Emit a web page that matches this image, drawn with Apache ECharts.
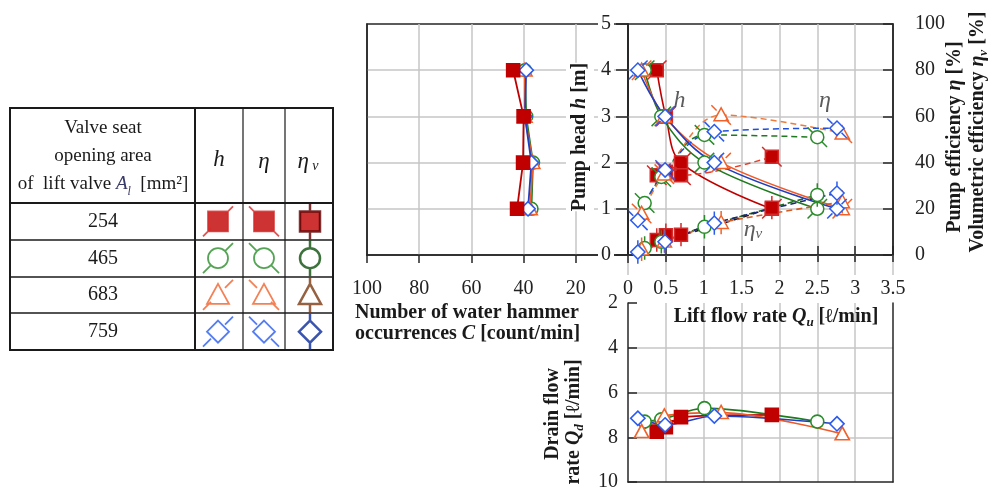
<!DOCTYPE html>
<html>
<head>
<meta charset="utf-8">
<title>Lift valve performance</title>
<script src="https://cdn.jsdelivr.net/npm/echarts@6/dist/echarts.min.js"></script>
<style>
html, body { margin: 0; padding: 0; background: #fff; }
#chart { width: 992px; height: 496px; }
</style>
</head>
<body>
<div id="chart"></div>
<script>
// valve seat opening area A_l [mm2], one row per valve
var valveAreas = ['254', '465', '683', '759'];
var tableColumns = ['h', 'η', 'ηv'];
// set pump head h [m] for the four operating points
var pumpHead = [4, 3, 2, 1];
// lift flow rate Qu [l/min] at each head
var liftFlow = [
    [0.38, 0.5, 0.7, 1.9],
    [0.22, 0.44, 1.01, 2.5],
    [0.18, 0.48, 1.23, 2.83],
    [0.13, 0.49, 1.14, 2.76]
];
// pump efficiency eta [%]
var pumpEff = [
    [34.5, 36, 34.5, 42.5],
    [22.5, 33.8, 52, 51],
    [18, 35, 60.6, 52.7],
    [15, 36.8, 53.4, 54.9]
];
// volumetric efficiency eta_v [%]
var volEff = [
    [6.5, 8.6, 8.8, 20.5],
    [3, 5.7, 12.2, 26],
    [2.5, 6, 14, 23],
    [1.3, 5.7, 13.8, 26.8]
];
// water hammer occurrences C [count/min]
var hammerCount = [
    [44, 40, 40.2, 42.5],
    [39.5, 39, 36.4, 37],
    [39.5, 39.5, 36.5, 37.5],
    [39, 39.5, 37, 38.3]
];
// drain flow rate Qd [l/min]
var drainFlow = [
    [7.75, 7.55, 7.1, 7.0],
    [7.3, 7.2, 6.7, 7.3],
    [7.75, 7.05, 6.9, 7.85],
    [7.15, 7.45, 7.05, 7.4]
];
// curve labels in the main panel
var curveNames = ['h', 'η', 'ηv'];
var curveNameQu = [0.68, 2.6, 1.65];
var curveNameHead = [3.35, 3.35, 0.55];

var serif = '"Liberation Serif", "Times New Roman", serif';
var gridGray = '#c6c6c6';
var axisBlack = '#262626';

var markColors = ['#c00000', '#2a8c2a', '#f0622a', '#2a5cf0'];
var whiskerColors = ['#d42a2a', '#2a8c2a', '#f0622a', '#2a5cf0'];
var darkColors = ['#5a0000', '#0c4f0c', '#7a3a10', '#0a2a9a'];
var headLineColors = ['#c00000', '#1f7a1f', '#f05a28', '#1f3fbf'];
var effLineColors = ['#e8402a', '#1f7a1f', '#f07a3a', '#1f4fd8'];
var volLineColors = ['#3a0a0a', '#1f6a1f', '#d85a20', '#18287a'];

// marker shapes drawn in a 40x40 box, whiskers show which quantity it is
var shapes = [
    'M10 10L30 10L30 30L10 30Z',
    'M30 20A10 10 0 1 1 10 20A10 10 0 1 1 30 20Z',
    'M20 9L31 29L9 29Z',
    'M20 9L31 20L20 31L9 20Z'
];
var whiskerH = 'M5 35L13 27M27 13L35 5';
var whiskerEta = 'M5 5L13 13M27 27L35 35';
var whiskerVol = 'M20 2L20 10M20 30L20 38';
var whiskers = [whiskerH, whiskerEta, whiskerVol];

function shapePath(i, whisker) {
    return 'path://M0 0M40 40' + shapes[i] + (whisker || '');
}
function pairs(xs, ys) {
    return xs.map(function (x, k) { return [x, ys[k]]; });
}

var chart = echarts.init(document.getElementById('chart'));

var series = [];
for (var i = 0; i < valveAreas.length; i++) {
    var fill = i === 0 ? markColors[0] : '#fff';
    series.push({
        name: valveAreas[i] + ' h', type: 'line', xAxisIndex: 0, yAxisIndex: 0,
        data: pairs(liftFlow[i], pumpHead), smooth: 0.35,
        symbol: shapePath(i, whiskerH), symbolSize: 26,
        lineStyle: { color: headLineColors[i], width: 1.6 },
        itemStyle: { color: fill, borderColor: whiskerColors[i], borderWidth: 1.5 },
        z: 3
    });
    series.push({
        name: valveAreas[i] + ' eta', type: 'line', xAxisIndex: 0, yAxisIndex: 1,
        data: pairs(liftFlow[i], pumpEff[i]), smooth: 0.35,
        symbol: shapePath(i, whiskerEta), symbolSize: 26,
        lineStyle: { color: effLineColors[i], width: 1.5, type: [6, 4] },
        itemStyle: { color: fill, borderColor: whiskerColors[i], borderWidth: 1.5 },
        z: 3
    });
    series.push({
        name: valveAreas[i] + ' eta_v', type: 'line', xAxisIndex: 0, yAxisIndex: 1,
        data: pairs(liftFlow[i], volEff[i]), smooth: 0.2,
        symbol: shapePath(i, whiskerVol), symbolSize: 26,
        lineStyle: { color: volLineColors[i], width: 1.6, type: [6, 4] },
        itemStyle: { color: fill, borderColor: whiskerColors[i], borderWidth: 1.5 },
        z: 3
    });
    series.push({
        name: valveAreas[i] + ' C', type: 'line', xAxisIndex: 3, yAxisIndex: 2,
        data: pairs(hammerCount[i], pumpHead),
        symbol: shapePath(i), symbolSize: 26,
        lineStyle: { color: headLineColors[i], width: 1.8 },
        itemStyle: { color: fill, borderColor: markColors[i], borderWidth: 1.6 },
        z: i === 0 ? 5 : 3
    });
    series.push({
        name: valveAreas[i] + ' Qd', type: 'line', xAxisIndex: 4, yAxisIndex: 3,
        data: pairs(liftFlow[i], drainFlow[i]), smooth: 0.3,
        symbol: shapePath(i), symbolSize: 26,
        lineStyle: { color: headLineColors[i], width: 1.6 },
        itemStyle: { color: fill, borderColor: markColors[i], borderWidth: 1.6 },
        z: 3
    });
}

// legend table markers
var tableData = [];
for (var r = 0; r < valveAreas.length; r++) {
    for (var c = 0; c < tableColumns.length; c++) {
        tableData.push({
            value: [c, r],
            symbol: shapePath(r, whiskers[c]),
            itemStyle: {
                color: r === 0 ? markColors[0] : '#fff',
                borderColor: c === 2 ? darkColors[r] : whiskerColors[r],
                borderWidth: c === 2 ? 2.5 : 1.8
            }
        });
    }
}
series.push({
    type: 'scatter', xAxisIndex: 5, yAxisIndex: 5, silent: true,
    symbolSize: 40, data: tableData
});

series.push({
    type: 'scatter', xAxisIndex: 0, yAxisIndex: 0, silent: true,
    symbolSize: 1, itemStyle: { color: 'rgba(0,0,0,0)' },
    data: curveNames.map(function (n, k) {
        return { name: n, value: [curveNameQu[k], curveNameHead[k]] };
    }),
    label: {
        show: true, position: 'inside',
        formatter: function (p) {
            return p.name === 'ηv' ? '{i|η}{s|v}' : '{i|' + p.name + '}';
        },
        rich: {
            i: { fontFamily: serif, fontStyle: 'italic', fontSize: 24, color: '#333' },
            s: { fontFamily: serif, fontStyle: 'italic', fontSize: 15, color: '#333', verticalAlign: 'bottom' }
        }
    },
    z: 6
});

var rb = { fontFamily: serif, fontSize: 20, fontWeight: 'bold', fill: '#1a1a1a', lineHeight: 24 };
var rbi = { fontFamily: serif, fontSize: 20, fontWeight: 'bold', fontStyle: 'italic', fill: '#1a1a1a', lineHeight: 24 };
var rsub = { fontFamily: serif, fontSize: 13, fontWeight: 'bold', fontStyle: 'italic', fill: '#1a1a1a', verticalAlign: 'bottom', lineHeight: 16 };
var nameRich = { b: rb, bi: rbi, sub: rsub };

function nameText(x, y, text, rotated, align, extra) {
    var style = { text: text, rich: nameRich, align: align || 'center', verticalAlign: 'middle' };
    if (extra) { for (var k in extra) style[k] = extra[k]; }
    return { type: 'text', x: x, y: y, rotation: rotated ? Math.PI / 2 : 0, z: 10, style: style };
}

var tr = { fontFamily: serif, fontSize: 19, fill: '#1a1a1a', lineHeight: 28 };
var tri = { fontFamily: serif, fontSize: 19, fontStyle: 'italic', fill: '#3a3a6a', lineHeight: 28 };
var trs = { fontFamily: serif, fontSize: 12, fontStyle: 'italic', fill: '#3a3a6a', verticalAlign: 'bottom', lineHeight: 18 };
var thi = { fontFamily: serif, fontSize: 23, fontStyle: 'italic', fill: '#1a1a1a' };
var ths = { fontFamily: serif, fontSize: 14, fontStyle: 'italic', fill: '#1a1a1a', verticalAlign: 'bottom' };

var graphics = [
    { type: 'rect', shape: { x: 10, y: 108, width: 323, height: 242 }, style: { fill: 'none', stroke: '#1a1a1a', lineWidth: 2 } }
];
[195, 243, 285].forEach(function (x, k) {
    graphics.push({ type: 'line', shape: { x1: x, y1: 108, x2: x, y2: 350 }, style: { stroke: '#1a1a1a', lineWidth: k === 0 ? 2 : 1.2 } });
});
[203, 240, 277, 313].forEach(function (y, k) {
    graphics.push({ type: 'line', shape: { x1: 10, y1: y, x2: 333, y2: y }, style: { stroke: '#1a1a1a', lineWidth: k === 0 ? 2.2 : 1.5 } });
});
graphics.push({
    type: 'text', x: 103, y: 156,
    style: {
        text: '{t|Valve seat}\n{t|opening area}\n{t|of  lift valve }{a|A}{s|l}{t|  [mm²]}',
        rich: { t: tr, a: tri, s: trs }, align: 'center', verticalAlign: 'middle'
    }
});
valveAreas.forEach(function (v, k) {
    graphics.push({
        type: 'text', x: 103, y: [221.5, 258.5, 295, 331.5][k],
        style: { text: v, fontFamily: serif, fontSize: 20, fill: '#1a1a1a', align: 'center', verticalAlign: 'middle' }
    });
});
graphics.push({ type: 'text', x: 219, y: 160, style: { text: '{i|h}', rich: { i: thi }, align: 'center', verticalAlign: 'middle' } });
graphics.push({ type: 'text', x: 264, y: 162, style: { text: '{i|η}', rich: { i: thi }, align: 'center', verticalAlign: 'middle' } });
graphics.push({ type: 'text', x: 308, y: 162, style: { text: '{i|η}{s| v}', rich: { i: thi, s: ths }, align: 'center', verticalAlign: 'middle' } });

graphics.push(nameText(580, 137, '{b|Pump head }{bi|h}{b| [m]}', true, 'center', { backgroundColor: '#fff', padding: [2, 0] }));
graphics.push(nameText(776, 317, '{b|Lift flow rate }{bi|Q}{sub|u}{b| [ℓ/min]}', false));
graphics.push(nameText(355, 313, '{b|Number of water hammer}', false, 'left'));
graphics.push(nameText(355, 334, '{b|occurrences }{bi|C}{b| [count/min]}', false, 'left'));
graphics.push(nameText(955, 137, '{b|Pump efficiency }{bi|η}{b| [%]}', true));
graphics.push(nameText(978, 132, '{b|Volumetric efficiency }{bi|η}{sub|v}{b| [%]}', true));
graphics.push(nameText(553, 414, '{b|Drain flow}', true));
graphics.push(nameText(574, 422, '{b|rate }{bi|Q}{sub|d}{b| [ℓ/min]}', true));

function labelStyle(margin, extra) {
    var s = { margin: margin, fontFamily: serif, fontSize: 20, color: '#222' };
    if (extra) { for (var k in extra) s[k] = extra[k]; }
    return s;
}
var blackLine = { color: axisBlack, width: 1.5 };
var graySplit = { show: true, showMinLine: false, showMaxLine: false, lineStyle: { color: gridGray, width: 1.5 } };

var option = {
    animation: false,
    backgroundColor: '#fff',
    textStyle: { fontFamily: serif },
    grid: [
        { left: 628, top: 24, width: 265, height: 231, show: true, borderColor: axisBlack, borderWidth: 1.5, outerBoundsMode: 'none' },
        { left: 367, top: 24, width: 261, height: 231, show: true, borderColor: axisBlack, borderWidth: 1.5, outerBoundsMode: 'none' },
        { left: 628, top: 303, width: 265, height: 179, outerBoundsMode: 'none' },
        { left: 195, top: 203, width: 138, height: 147, outerBoundsMode: 'none' }
    ],
    xAxis: [
        {
            gridIndex: 0, type: 'value', position: 'bottom', min: 0, max: 3.5, interval: 0.5,
            axisLine: { onZero: false, lineStyle: blackLine },
            axisTick: { inside: true, length: 9, lineStyle: blackLine },
            axisLabel: labelStyle(24),
            splitLine: graySplit
        },
        {
            gridIndex: 0, type: 'value', position: 'bottom', min: 0, max: 3.5, interval: 0.5,
            axisLine: { show: false, onZero: false },
            axisTick: { length: 20, lineStyle: { color: gridGray, width: 1.5 } },
            axisLabel: { show: false }, splitLine: { show: false }
        },
        {
            gridIndex: 0, type: 'value', position: 'bottom', min: 0, max: 3.5, interval: 0.5,
            axisLine: { show: false, onZero: false },
            axisTick: { length: 7, lineStyle: blackLine },
            axisLabel: { show: false }, splitLine: { show: false }
        },
        {
            gridIndex: 1, type: 'value', position: 'bottom', inverse: true, min: 0, max: 100, interval: 20,
            axisLine: { onZero: false, lineStyle: blackLine },
            axisTick: { length: 8, lineStyle: blackLine },
            axisLabel: labelStyle(24, { formatter: function (v) { return v === 0 ? '' : String(v); } }),
            splitLine: graySplit
        },
        {
            gridIndex: 2, type: 'value', position: 'bottom', min: 0, max: 3.5, interval: 0.5,
            axisLine: { onZero: false, lineStyle: blackLine },
            axisTick: { show: false }, axisLabel: { show: false },
            splitLine: graySplit
        },
        { gridIndex: 3, type: 'category', data: tableColumns, show: false }
    ],
    yAxis: [
        {
            gridIndex: 0, type: 'value', position: 'left', min: 0, max: 5, interval: 1, z: 5,
            axisLine: { onZero: false, lineStyle: blackLine },
            axisTick: { length: 12, lineStyle: blackLine },
            axisLabel: labelStyle(14, { backgroundColor: '#fff', padding: [0, 3, 0, 3] }),
            splitLine: { show: false }
        },
        {
            gridIndex: 0, type: 'value', position: 'right', min: 0, max: 100, interval: 20,
            axisLine: { onZero: false, lineStyle: blackLine },
            axisTick: { inside: true, length: 10, lineStyle: blackLine },
            axisLabel: labelStyle(22),
            splitLine: graySplit
        },
        {
            gridIndex: 1, type: 'value', position: 'left', min: 0, max: 5, interval: 1,
            axisLine: { onZero: false, lineStyle: blackLine },
            axisTick: { show: false }, axisLabel: { show: false },
            splitLine: graySplit
        },
        {
            gridIndex: 2, type: 'value', position: 'left', inverse: true, min: 2, max: 10, interval: 2,
            axisLine: { onZero: false, lineStyle: blackLine },
            axisTick: { inside: true, length: 9, lineStyle: blackLine },
            axisLabel: labelStyle(10),
            splitLine: graySplit
        },
        {
            gridIndex: 2, type: 'value', position: 'right', inverse: true, min: 2, max: 10, interval: 2,
            axisLine: { onZero: false, lineStyle: blackLine },
            axisTick: { show: false }, axisLabel: { show: false }, splitLine: { show: false }
        },
        { gridIndex: 3, type: 'category', data: valveAreas, inverse: true, show: false }
    ],
    graphic: { elements: graphics },
    series: series
};

chart.setOption(option);
</script>
</body>
</html>
